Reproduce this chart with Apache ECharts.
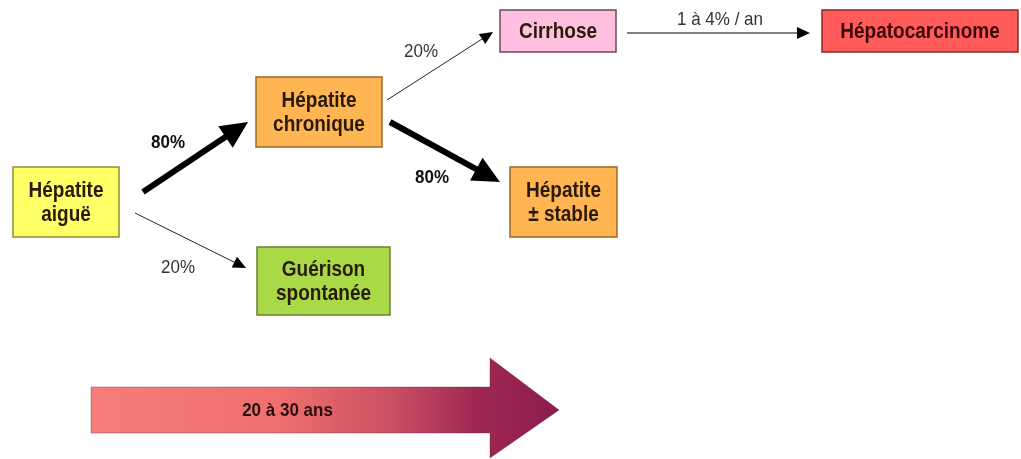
<!DOCTYPE html>
<html><head><meta charset="utf-8">
<script src="https://cdn.jsdelivr.net/npm/echarts@6/dist/echarts.min.js"></script>
<style>html,body{margin:0;padding:0;background:#fff}#c{width:1021px;height:459px}</style>
</head><body><div id="c"></div>
<script>
// Nodes (diagram boxes)
const nodeLabels = ['Hépatite\naiguë', 'Hépatite\nchronique', 'Cirrhose', 'Hépatocarcinome', 'Hépatite\n± stable', 'Guérison\nspontanée'];
const nodeLeft   = [13, 256, 500, 822, 510, 257];
const nodeTop    = [167, 77, 10, 10, 167, 247];
const nodeRight  = [119, 382, 616, 1018, 617, 390];
const nodeBottom = [237, 147, 52, 52, 237, 315];
// Links (transitions)
const linkLabels = ['80%', '20%', '20%', '80%', '1 à 4% / an'];
const linkMajor  = [true, false, false, true, false];
const linkStart  = [[143, 192], [135, 213], [387, 100], [390, 122], [627, 33]];
const linkEnd    = [[248, 122], [246, 268], [493, 32], [500, 182], [810, 33]];
const linkLabelPos = [[168, 143], [178, 268], [421, 52], [432, 178], [720, 20]];
// Timeline arrow
const timeLabel = '20 à 30 ans';
const timeShaft = [91, 387, 490, 433];
const timeHead = [490, 358, 559, 410, 490, 458];

const fills = ['#ffff66', '#ffb552', '#ffc0df', '#ff5b5b', '#ffb552', '#a9d946'];
const strokes = ['#8f8a3a', '#9a6a2a', '#6a4a5a', '#8a2a2a', '#9a6a2a', '#6f7f3a'];
const FONT = '"Liberation Sans", Arial, sans-serif';

const chart = echarts.init(document.getElementById('c'), null, {renderer: 'canvas'});

const boxData = nodeLabels.map((l, i) => [nodeLeft[i], nodeTop[i], nodeRight[i], nodeBottom[i], i]);
const linkData = linkLabels.map((l, i) => [linkStart[i][0], linkStart[i][1], linkEnd[i][0], linkEnd[i][1], i]);

chart.setOption({
  animation: false,
  grid: {left: 0, right: 0, top: 0, bottom: 0},
  xAxis: {type: 'value', min: 0, max: 1021, show: false},
  yAxis: {type: 'value', min: 0, max: 459, inverse: true, show: false},
  series: [
    {
      type: 'custom', clip: false, data: [[0]],
      renderItem: (params, api) => {
        const a = api.coord([timeShaft[0], timeShaft[1]]);
        const b = api.coord([timeShaft[2], timeShaft[3]]);
        const h1 = api.coord([timeHead[0], timeHead[1]]);
        const h2 = api.coord([timeHead[2], timeHead[3]]);
        const h3 = api.coord([timeHead[4], timeHead[5]]);
        const pts = [[a[0], a[1]], [b[0], a[1]], h1, h2, h3, [b[0], b[1]], [a[0], b[1]]];
        const tx = (a[0] + b[0]) / 2 - 3, ty = (a[1] + b[1]) / 2 + 1;
        return {
          type: 'group', children: [
            {type: 'polygon', shape: {points: pts}, style: {
              fill: new echarts.graphic.LinearGradient(0, 0, 1, 0, [
                {offset: 0, color: '#f67d7a'}, {offset: 0.4, color: '#ef6f6f'},
                {offset: 0.65, color: '#c94e62'}, {offset: 0.82, color: '#a02753'}, {offset: 1, color: '#8c1c4f'}]),
              stroke: 'rgba(90,40,50,0.35)', lineWidth: 1}},
            {type: 'text', x: tx, y: ty, scaleY: 1.12, style: {x: 0, y: 0, text: timeLabel,
              font: 'bold 17px ' + FONT, fill: '#2a0c0c', align: 'center', verticalAlign: 'middle'}}
          ]
        };
      }
    },
    {
      type: 'custom', clip: false, data: linkData,
      renderItem: (params, api) => {
        const i = api.value(4);
        const p0 = api.coord([api.value(0), api.value(1)]);
        const p1 = api.coord([api.value(2), api.value(3)]);
        const major = linkMajor[i];
        const dx = p1[0] - p0[0], dy = p1[1] - p0[1];
        const len = Math.sqrt(dx * dx + dy * dy);
        const ux = dx / len, uy = dy / len, nx = -uy, ny = ux;
        const hl = major ? 27 : 13, hw = major ? 13 : 6;
        const bx = p1[0] - ux * hl, by = p1[1] - uy * hl;
        const lp = api.coord(linkLabelPos[i]);
        return {
          type: 'group', children: [
            {type: 'line', shape: {x1: p0[0], y1: p0[1], x2: bx + ux * 2, y2: by + uy * 2},
              style: {stroke: major ? '#000' : (i === 4 ? '#555' : '#222'), lineWidth: major ? 6 : (i === 4 ? 1.5 : 1)}},
            {type: 'polygon', shape: {points: [[p1[0], p1[1]], [bx + nx * hw, by + ny * hw], [bx - nx * hw, by - ny * hw]]},
              style: {fill: '#000'}},
            {type: 'text', x: lp[0], y: lp[1], scaleY: 1.12, style: {x: 0, y: 0, text: linkLabels[i],
              font: (major ? 'bold ' : '') + '17px ' + FONT, fill: major ? '#111' : '#333',
              align: 'center', verticalAlign: 'middle'}}
          ]
        };
      }
    },
    {
      type: 'custom', clip: false, data: boxData,
      renderItem: (params, api) => {
        const i = api.value(4);
        const a = api.coord([api.value(0), api.value(1)]);
        const b = api.coord([api.value(2), api.value(3)]);
        return {
          type: 'group', children: [
            {type: 'rect', shape: {x: a[0], y: a[1], width: b[0] - a[0], height: b[1] - a[1]},
              style: {fill: fills[i], stroke: strokes[i], lineWidth: 1.5}},
            {type: 'text', x: (a[0] + b[0]) / 2, y: (a[1] + b[1]) / 2 + 1, scaleY: 1.12,
              style: {x: 0, y: 0, text: nodeLabels[i],
              font: 'bold 19px ' + FONT, lineHeight: 22, fill: i === 3 ? '#3a0808' : '#2a1a0a',
              align: 'center', verticalAlign: 'middle'}}
          ]
        };
      }
    }
  ]
});
</script></body></html>
